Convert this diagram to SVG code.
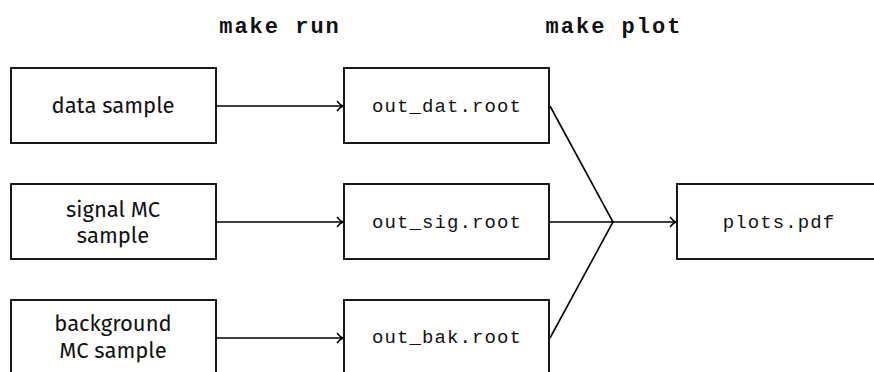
<svg xmlns="http://www.w3.org/2000/svg" width="874" height="372" viewBox="0 0 874 372">
<style>
.box{fill:#fff;stroke:#000;stroke-width:1.8}
.sans{font-family:"Fira Sans","Open Sans","Noto Sans",sans-serif;font-size:22px;fill:#111;text-anchor:middle}
.mono{font-family:"Liberation Mono","DejaVu Sans Mono",monospace;font-size:19px;letter-spacing:1.1px;fill:#111;text-anchor:middle}
.head{font-family:"Liberation Mono","DejaVu Sans Mono",monospace;font-size:22px;font-weight:bold;letter-spacing:2px;fill:#111;text-anchor:middle}
.con{fill:none;stroke:#000;stroke-width:1.6}
</style>
<defs>
<marker id="to" markerWidth="10" markerHeight="12" refX="8" refY="6" orient="auto" markerUnits="userSpaceOnUse">
<path d="M2,1 Q5,5 8,6 Q5,7 2,11" fill="none" stroke="#000" stroke-width="1.4"/>
</marker>
</defs>
<text class="head" x="280" y="33">make run</text>
<text class="head" x="614" y="33">make plot</text>
<g id="data"><rect class="box" x="11" y="68" width="205" height="75"/><text class="sans" x="113" y="113">data sample</text></g>
<g id="signal"><rect class="box" x="11" y="184" width="205" height="75"/><text class="sans" x="113" y="217">signal MC</text><text class="sans" x="113" y="243">sample</text></g>
<g id="background"><rect class="box" x="11" y="300" width="205" height="75"/><text class="sans" x="113" y="331">background</text><text class="sans" x="113" y="358">MC sample</text></g>
<g id="outdat"><rect class="box" x="344" y="68" width="205" height="75"/><text class="mono" x="447" y="112">out_dat.root</text></g>
<g id="outsig"><rect class="box" x="344" y="184" width="205" height="75"/><text class="mono" x="447" y="228">out_sig.root</text></g>
<g id="outbak"><rect class="box" x="344" y="300" width="205" height="75"/><text class="mono" x="447" y="343">out_bak.root</text></g>
<g id="plots"><rect class="box" x="677" y="184" width="205" height="75"/><text class="mono" x="779" y="228">plots.pdf</text></g>
<g id="connectors">
<line class="con" x1="216" y1="106" x2="343" y2="106" marker-end="url(#to)"/>
<line class="con" x1="216" y1="222" x2="343" y2="222" marker-end="url(#to)"/>
<line class="con" x1="216" y1="338" x2="343" y2="338" marker-end="url(#to)"/>
<polyline class="con" points="550,106 613,222 550,338"/>
<line class="con" x1="550" y1="222" x2="676" y2="222" marker-end="url(#to)"/>
</g>
</svg>
